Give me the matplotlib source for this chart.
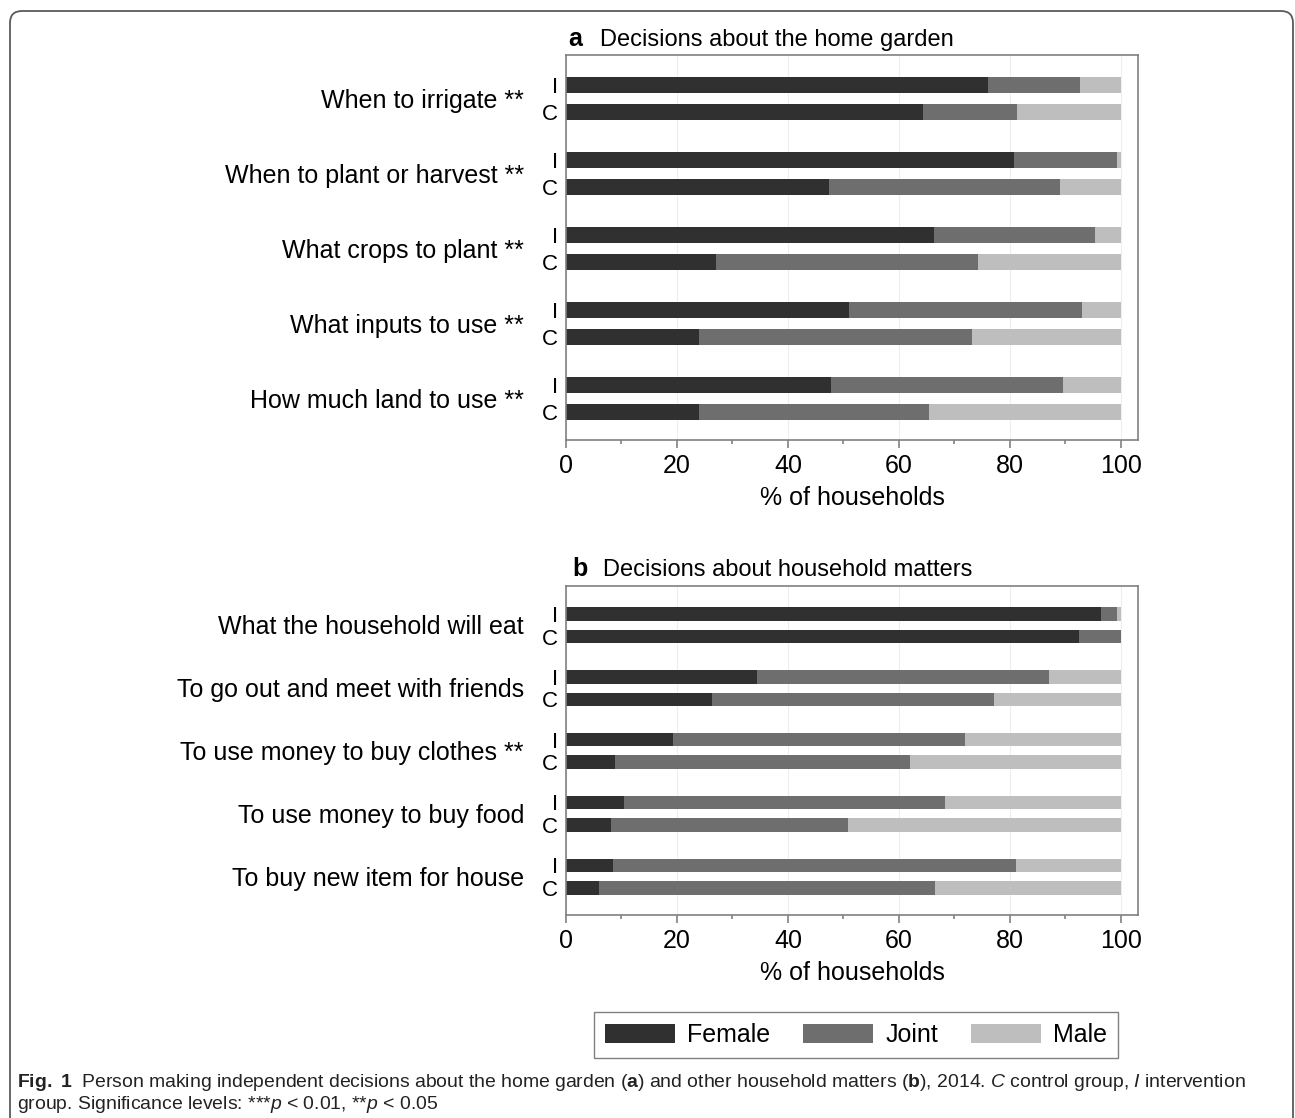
import matplotlib
matplotlib.use("Agg")
import matplotlib.pyplot as plt
import numpy as np
from matplotlib.patches import FancyBboxPatch, Patch
from matplotlib.ticker import MultipleLocator

plt.rcParams["font.family"] = ["Liberation Sans", "DejaVu Sans"]
plt.rcParams["mathtext.fontset"] = "custom"
plt.rcParams["mathtext.rm"] = "Liberation Sans"
plt.rcParams["mathtext.it"] = "Liberation Sans:italic"
plt.rcParams["mathtext.bf"] = "Liberation Sans:bold"

# panel a: decisions about the home garden (% of households)
garden_cats = ["When to irrigate **", "When to plant or harvest **", "What crops to plant **",
               "What inputs to use **", "How much land to use **"]
garden_female_i = [76.1, 80.7, 66.3, 51.0, 47.7]
garden_joint_i = [16.5, 18.7, 29.1, 42.0, 41.8]
garden_male_i = [7.4, 0.6, 4.6, 7.0, 10.5]
garden_female_c = [64.3, 47.4, 27.0, 24.0, 24.0]
garden_joint_c = [17.0, 41.6, 47.2, 49.1, 41.4]
garden_male_c = [18.7, 11.0, 25.8, 26.9, 34.6]

# panel b: decisions about household matters
house_cats = ["What the household will eat", "To go out and meet with friends",
              "To use money to buy clothes **", "To use money to buy food",
              "To buy new item for house"]
house_female_i = [96.4, 34.4, 19.3, 10.5, 8.4]
house_joint_i = [3.0, 52.7, 52.6, 57.8, 72.7]
house_male_i = [0.6, 12.9, 28.1, 31.7, 18.9]
house_female_c = [92.4, 26.3, 8.8, 8.1, 5.9]
house_joint_c = [7.6, 50.9, 53.2, 42.8, 60.7]
house_male_c = [0.0, 22.8, 38.0, 49.1, 33.4]

group_labels = ["I", "C"]
series_names = ["Female", "Joint", "Male"]
colors = ["#303030", "#6e6e6e", "#bebebe"]

W, H = 1295, 1118
fig = plt.figure(figsize=(W / 100, H / 100), dpi=100)

# rounded frame around the figure (bottom edge runs off the canvas)
frame = FancyBboxPatch((10, -30), 1283, H - 11 + 30,
                       boxstyle="round,pad=0,rounding_size=12",
                       transform=None, fill=False, edgecolor="#5a5a5a", lw=1.3)
fig.patches.append(frame)

OFF = 0.36
BAR_H = 0.215


def draw_panel(ax, cats, fi, ji, mi, fc, jc, mc, ylim):
    n = len(cats)
    y_i = np.arange(n, dtype=float)
    y_c = y_i + OFF
    for y, parts in ((y_i, (fi, ji, mi)), (y_c, (fc, jc, mc))):
        left = np.zeros(n)
        for vals, col in zip(parts, colors):
            vals = np.asarray(vals)
            ax.barh(y, vals, left=left, height=BAR_H, color=col, lw=0)
            left = left + vals
    ax.set_xlim(0, 103.1)
    ax.set_ylim(*ylim)
    ax.set_yticks(np.concatenate([y_i, y_c]))
    ax.set_yticklabels([group_labels[0]] * n + [group_labels[1]] * n, fontsize=16)
    ax.tick_params(axis="y", length=0, pad=6)
    ax.xaxis.set_major_locator(MultipleLocator(20))
    ax.xaxis.set_minor_locator(MultipleLocator(10))
    ax.tick_params(axis="x", which="major", length=6, width=1.1, color="#777777",
                   labelsize=18, pad=4)
    ax.tick_params(axis="x", which="minor", length=3, width=1.1, color="#777777")
    ax.grid(axis="x", color="#eeeeee", lw=0.8)
    ax.set_axisbelow(True)
    for sp in ax.spines.values():
        sp.set_color("#808080")
        sp.set_linewidth(1.2)
    ax.set_xlabel("% of households", fontsize=18, labelpad=6)
    for k, cat in enumerate(cats):
        ax.annotate(cat, xy=(0, y_i[k] + OFF / 2 + 0.03), xycoords=("axes fraction", "data"),
                    xytext=(-42, 0), textcoords="offset pixels",
                    ha="right", va="center", fontsize=18)


ax_a = fig.add_axes([566 / W, 1 - 440 / H, 572 / W, 385 / H])
draw_panel(ax_a, garden_cats, garden_female_i, garden_joint_i, garden_male_i,
           garden_female_c, garden_joint_c, garden_male_c, (4.733, -0.4))

ax_b = fig.add_axes([566 / W, 1 - 915 / H, 572 / W, 329 / H])
draw_panel(ax_b, house_cats, house_female_i, house_joint_i, house_male_i,
           house_female_c, house_joint_c, house_male_c, (4.79, -0.444))

# panel titles
fig.text(568 / W, 1 - 46 / H, "a", fontsize=18, fontweight="bold", va="baseline")
fig.text(600 / W, 1 - 46 / H, "Decisions about the home garden", fontsize=17, va="baseline")
fig.text(572 / W, 1 - 576 / H, "b", fontsize=18, fontweight="bold", va="baseline")
fig.text(603 / W, 1 - 576 / H, "Decisions about household matters", fontsize=17, va="baseline")

handles = [Patch(facecolor=c, edgecolor="none") for c in colors]
fig.legend(handles, series_names, loc="center", bbox_to_anchor=(856 / W, 1 - 1035 / H),
           ncol=3, fontsize=18, frameon=True, fancybox=False, edgecolor="#808080",
           handlelength=2.8, handleheight=0.8, handletextpad=0.5, columnspacing=1.3,
           borderpad=0.45, framealpha=1)

# caption
line1 = (r"$\mathbf{Fig.\ 1}$  Person making independent decisions about the home garden "
         r"($\mathbf{a}$) and other household matters ($\mathbf{b}$), 2014. "
         r"$\mathit{C}$ control group, $\mathit{I}$ intervention")
line2 = r"group. Significance levels: ***$\mathit{p}$ < 0.01, **$\mathit{p}$ < 0.05"
t1 = fig.text(17 / W, 1 - 1087 / H, line1, fontsize=12, va="baseline", color="#222222")
r = fig.canvas.get_renderer()
w1 = t1.get_window_extent(renderer=r).width
size = 12 * 1230 / w1
t1.set_fontsize(size)
fig.text(17 / W, 1 - 1109 / H, line2, fontsize=size, va="baseline", color="#222222")

fig.savefig("out.png", dpi=100)
